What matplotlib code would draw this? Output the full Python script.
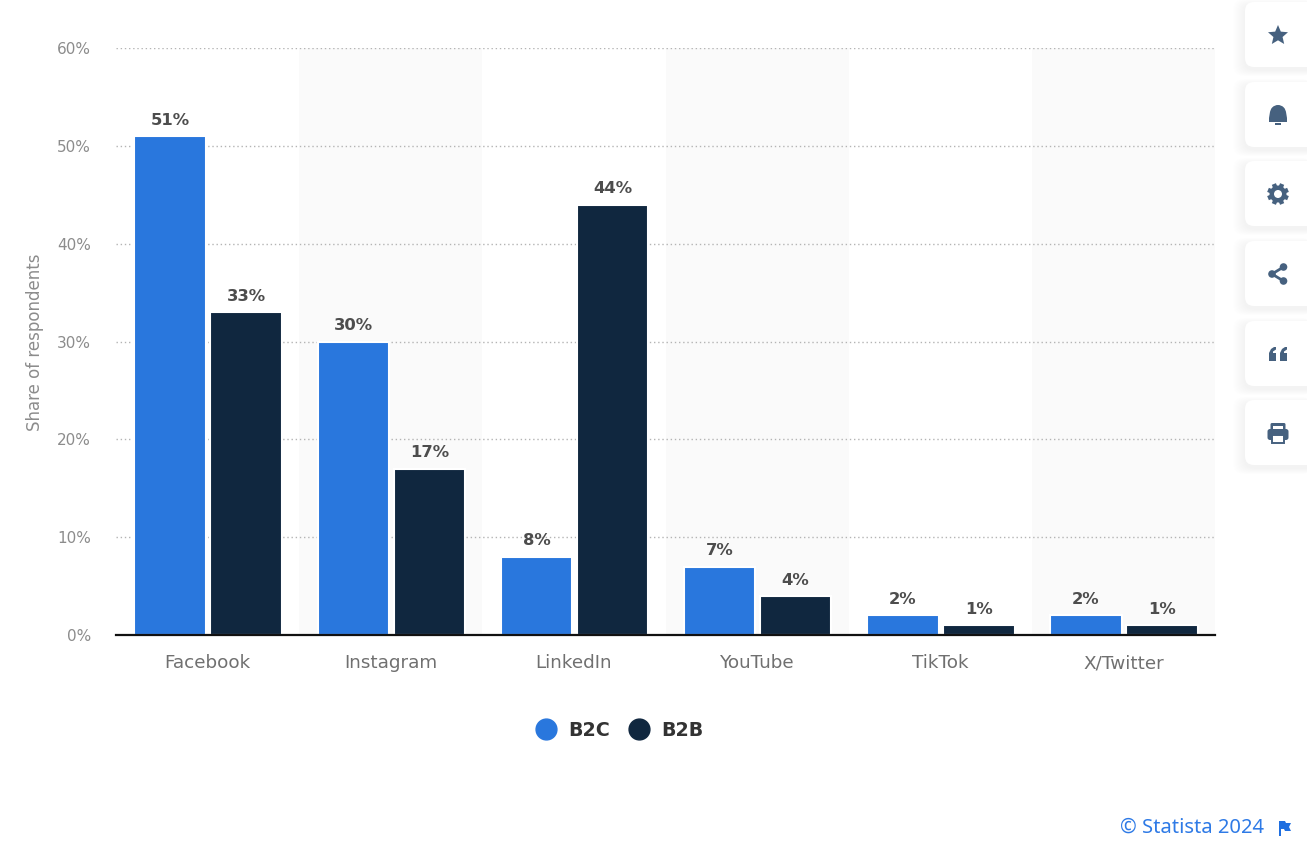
import matplotlib
matplotlib.use("Agg")
import matplotlib.pyplot as plt
import numpy as np
from matplotlib.lines import Line2D
from matplotlib.patches import FancyBboxPatch, Polygon, Circle, Rectangle, Wedge

categories = ["Facebook", "Instagram", "LinkedIn", "YouTube", "TikTok", "X/Twitter"]
b2c = [51, 30, 8, 7, 2, 2]
b2b = [33, 17, 44, 4, 1, 1]
y_ticks = [0, 10, 20, 30, 40, 50, 60]

W, H = 1307, 843
BLUE = "#2977dd"
NAVY = "#10273f"
ICON = "#46617f"

plt.rcParams["font.family"] = ["DejaVu Sans"]

fig = plt.figure(figsize=(W / 100, H / 100), dpi=100, facecolor="white")
ax = fig.add_axes([116 / W, 1 - 635 / H, (1215 - 116) / W, (635 - 48) / H])

x = np.arange(len(categories))
bar_w = 0.39
off = 0.2074
shift = 0.003
ax.set_xlim(-0.5, 5.5)
ax.set_ylim(0, 60)

# alternating background bands
for i in x[1::2]:
    ax.axvspan(i - 0.5, i + 0.5, color="#fafafa", lw=0, zorder=0)

ax.set_yticks(y_ticks)
ax.set_yticklabels([f"{v}%" for v in y_ticks], color="#8c8c8c", fontsize=11)
ax.yaxis.grid(True, linestyle=(0, (1, 2)), color="#b4b4b4", lw=1, zorder=1)
ax.set_axisbelow(True)
ax.set_xticks(x)
ax.set_xticklabels(categories, color="#707070", fontsize=13.2)
ax.tick_params(axis="both", length=0)
ax.tick_params(axis="x", pad=14)
ax.tick_params(axis="y", pad=18)
for s in ["top", "left", "right"]:
    ax.spines[s].set_visible(False)
ax.spines["bottom"].set_color("#111111")
ax.spines["bottom"].set_linewidth(1.6)

# white outline trims the bar tops a little, like the original
bars1 = ax.bar(x - off + shift, b2c, bar_w, color=BLUE, zorder=2, edgecolor="white", linewidth=1.5)
bars2 = ax.bar(x + off + shift, b2b, bar_w, color=NAVY, zorder=2, edgecolor="white", linewidth=1.5)
for bars, vals in ((bars1, b2c), (bars2, b2b)):
    ax.bar_label(bars, labels=[f"{v}%" for v in vals], padding=6, fontsize=11.8,
                 fontweight="bold", color="#4d4d4d")

fig.text(35 / W, 1 - 342 / H, "Share of respondents", rotation=90, ha="center", va="center",
         color="#8c8c8c", fontsize=12)

handles = [Line2D([], [], marker="o", ls="", ms=15, color=BLUE),
           Line2D([], [], marker="o", ls="", ms=15, color=NAVY)]
fig.legend(handles, ["B2C", "B2B"], ncol=2, frameon=False, loc="center",
           bbox_to_anchor=(619 / W, 1 - 730 / H), handletextpad=0.55, columnspacing=0.95,
           prop={"weight": "bold", "size": 13.7}, labelcolor="#333333", handlelength=1.2)

fig.text(1264 / W, 1 - 828 / H, "© Statista 2024", ha="right", va="center", color="#2e7ae6",
         fontsize=14.5, family="Noto Sans")

# overlay in pixel coordinates for the side buttons
ov = fig.add_axes([0, 0, 1, 1], facecolor="none")
ov.set_xlim(0, W)
ov.set_ylim(H, 0)
ov.axis("off")

# flag
ov.add_patch(Polygon([(1279, 821), (1285, 821), (1286, 823), (1291, 823), (1289, 827), (1291, 831),
                      (1285, 831), (1284, 829), (1281, 829), (1281, 836), (1279, 836)],
                     color="#1f6fe0", lw=0))

card_tops = [2, 82, 161, 241, 321, 400]
for top in card_tops:
    for k in range(12, 0, -1):
        ov.add_patch(FancyBboxPatch((1245 - k, top + 3 - k * 0.5), 80, 65 + k,
                                    boxstyle="round,pad=0,rounding_size=10",
                                    fc="#66708a", ec="none", alpha=0.004, zorder=3))
    ov.add_patch(FancyBboxPatch((1245, top), 80, 65, boxstyle="round,pad=0,rounding_size=9",
                                fc="white", ec="none", zorder=4))

ic = 1278
# star
ang = np.deg2rad(np.arange(0, 360, 36) - 90)
rad = np.where(np.arange(10) % 2 == 0, 10.5, 4.8)
ov.add_patch(Polygon(np.c_[ic + rad * np.cos(ang), 35.5 + rad * np.sin(ang)], color=ICON, lw=0, zorder=5))
# bell
ov.add_patch(Wedge((ic, 113), 8, 180, 360, color=ICON, lw=0, zorder=5))
ov.add_patch(Polygon([(ic - 8, 112), (ic + 8, 112), (ic + 9, 118), (ic + 9, 122), (ic - 9, 122), (ic - 9, 118)],
                     color=ICON, lw=0, zorder=5))
ov.add_patch(Rectangle((ic - 3, 123), 6, 2, color=ICON, lw=0, zorder=5))
# gear
for a in np.arange(0, 180, 45):
    ov.plot([ic - 10.8 * np.cos(np.deg2rad(a + 22.5)), ic + 10.8 * np.cos(np.deg2rad(a + 22.5))],
            [194 - 10.8 * np.sin(np.deg2rad(a + 22.5)), 194 + 10.8 * np.sin(np.deg2rad(a + 22.5))],
            color=ICON, lw=3.2, solid_capstyle="butt", zorder=5)
ov.add_patch(Circle((ic, 194), 8.5, color=ICON, lw=0, zorder=5))
ov.add_patch(Circle((ic, 194), 4, color="white", lw=0, zorder=6))
# share
ov.plot([ic + 5.5, ic - 6, ic + 5.5], [267, 274, 281], color=ICON, lw=2, zorder=5)
for cx, cy in [(ic + 5.5, 267), (ic - 6, 274), (ic + 5.5, 281)]:
    ov.add_patch(Circle((cx, cy), 3.8, color=ICON, lw=0, zorder=5))
# quote marks
for dx in (-9, 2):
    ov.add_patch(Polygon([(ic + dx, 353), (ic + dx + 2, 349), (ic + dx + 5, 347), (ic + dx + 7, 347), (ic + dx + 7, 349.5),
                          (ic + dx + 4, 351.5), (ic + dx + 4, 353), (ic + dx + 7, 353), (ic + dx + 7, 361), (ic + dx, 361)],
                         color=ICON, lw=0, zorder=5))
# printer
ov.add_patch(FancyBboxPatch((ic - 10.5, 429), 21, 11, boxstyle="round,pad=0,rounding_size=2.5", color=ICON, lw=0, zorder=5))
ov.add_patch(FancyBboxPatch((ic - 7.5, 423), 15, 8, boxstyle="round,pad=0,rounding_size=1.5", color=ICON, lw=0, zorder=5))
ov.add_patch(Rectangle((ic - 5, 425.5), 10, 3, color="white", lw=0, zorder=6))
ov.add_patch(Rectangle((ic - 6, 435), 12, 8, facecolor="white", edgecolor=ICON, lw=1.4, zorder=6))

fig.savefig("out.png", dpi=100)
